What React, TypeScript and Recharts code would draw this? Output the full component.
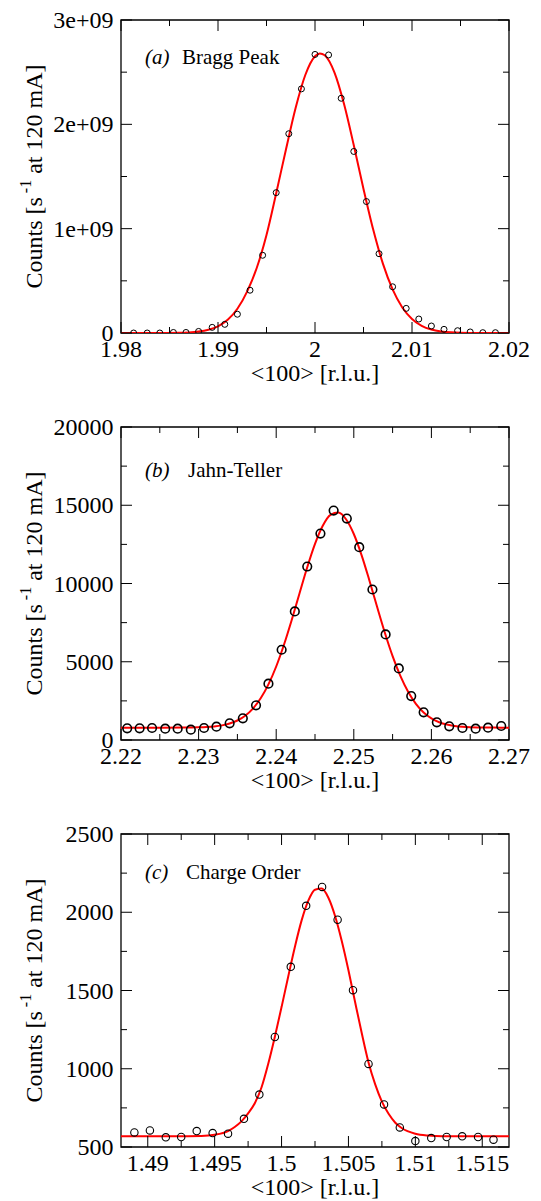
import React from 'react';
import { ComposedChart, Line, Scatter, XAxis, YAxis, ReferenceArea } from 'recharts';

// ---- panel (a) Bragg peak ----
const braggX = [1.9813, 1.9827, 1.984, 1.9854, 1.9867, 1.988, 1.9894, 1.9907, 1.992, 1.9933, 1.9946, 1.996, 1.9973, 1.9986, 2.0, 2.0014, 2.0027, 2.004, 2.0053, 2.0066, 2.008, 2.0094, 2.0107, 2.012, 2.0133, 2.0147, 2.016, 2.0173, 2.0186];
const braggY = [0, 0, 0, 0.005e9, 0.005e9, 0.015e9, 0.054e9, 0.083e9, 0.18e9, 0.41e9, 0.745e9, 1.345e9, 1.91e9, 2.34e9, 2.67e9, 2.665e9, 2.25e9, 1.74e9, 1.26e9, 0.76e9, 0.443e9, 0.236e9, 0.134e9, 0.067e9, 0.035e9, 0.022e9, 0.01e9, 0.003e9, 0.003e9];
const braggFitX = [1.98, 1.984, 1.986, 1.987, 1.988, 1.989, 1.99, 1.991, 1.992, 1.993, 1.994, 1.995, 1.996, 1.997, 1.998, 1.999, 2.0, 2.0005, 2.001, 2.002, 2.003, 2.004, 2.005, 2.006, 2.007, 2.008, 2.009, 2.01, 2.011, 2.012, 2.013, 2.014, 2.015, 2.017, 2.02];
const braggFitY = [0, 0.0003e9, 0.0022e9, 0.0057e9, 0.0137e9, 0.0307e9, 0.0645e9, 0.1265e9, 0.232e9, 0.397e9, 0.625e9, 0.94e9, 1.34e9, 1.757e9, 2.156e9, 2.473e9, 2.653e9, 2.68e9, 2.662e9, 2.498e9, 2.192e9, 1.799e9, 1.381e9, 0.991e9, 0.665e9, 0.418e9, 0.245e9, 0.135e9, 0.069e9, 0.033e9, 0.015e9, 0.0063e9, 0.0025e9, 0.0003e9, 0];
const braggXMajor = [1.98, 1.99, 2, 2.01, 2.02];
const braggXMinor = [1.985, 1.995, 2.005, 2.015];
const braggYMajor = [0, 1e9, 2e9, 3e9];
const braggYMinor = [0.5e9, 1.5e9, 2.5e9];

// ---- panel (b) Jahn-Teller ----
const jtX = [2.2208, 2.2224, 2.224, 2.2257, 2.2273, 2.229, 2.2307, 2.2323, 2.234, 2.2357, 2.2374, 2.239, 2.2407, 2.2424, 2.244, 2.2457, 2.2474, 2.2491, 2.2507, 2.2524, 2.2541, 2.2558, 2.2574, 2.259, 2.2607, 2.2623, 2.264, 2.2657, 2.2673, 2.269];
const jtY = [745, 745, 766, 723, 723, 660, 766, 851, 1064, 1383, 2213, 3596, 5766, 8213, 11085, 13191, 14660, 14149, 12319, 9617, 6745, 4574, 2809, 1766, 1128, 872, 766, 723, 787, 894];
const jtFitX = [2.22, 2.225, 2.228, 2.23, 2.231, 2.232, 2.233, 2.234, 2.235, 2.236, 2.237, 2.238, 2.239, 2.24, 2.241, 2.242, 2.243, 2.244, 2.245, 2.246, 2.247, 2.248, 2.249, 2.25, 2.251, 2.252, 2.253, 2.254, 2.255, 2.256, 2.257, 2.258, 2.259, 2.26, 2.261, 2.262, 2.263, 2.264, 2.265, 2.266, 2.268, 2.27];
const jtFitY = [790, 790, 792, 809, 828, 866, 934, 1051, 1246, 1551, 2010, 2665, 3554, 4696, 6085, 7670, 9364, 11037, 12533, 13694, 14389, 14532, 14107, 13164, 11817, 10213, 8511, 6856, 5361, 4092, 3078, 2310, 1759, 1382, 1137, 985, 895, 844, 817, 803, 792, 790];
const jtXMajor = [2.22, 2.23, 2.24, 2.25, 2.26, 2.27];
const jtXMinor = [2.225, 2.235, 2.245, 2.255, 2.265];
const jtYMajor = [0, 5000, 10000, 15000, 20000];
const jtYMinor = [2500, 7500, 12500, 17500];

// ---- panel (c) Charge order ----
const coX = [1.489, 1.49016, 1.49135, 1.4925, 1.49366, 1.49485, 1.496, 1.49719, 1.49834, 1.4995, 1.50069, 1.50184, 1.50303, 1.50419, 1.50534, 1.5065, 1.50766, 1.50884, 1.51, 1.51119, 1.51234, 1.5135, 1.51469, 1.51584];
const coY = [593, 606, 562, 564, 602, 589, 585, 680, 835, 1203, 1651, 2041, 2162, 1952, 1502, 1031, 772, 625, 538, 557, 564, 568, 564, 547];
const coFitX = [1.488, 1.492, 1.494, 1.495, 1.496, 1.4965, 1.497, 1.4975, 1.498, 1.4985, 1.499, 1.4995, 1.5, 1.5005, 1.501, 1.5015, 1.502, 1.5025, 1.503, 1.5035, 1.504, 1.5045, 1.505, 1.5055, 1.506, 1.5065, 1.507, 1.5075, 1.508, 1.5085, 1.509, 1.51, 1.511, 1.512, 1.517];
const coFitY = [568, 568, 570, 578, 602, 628, 664, 715, 780, 880, 1030, 1205, 1394, 1590, 1780, 1948, 2074, 2144, 2151, 2093, 1976, 1816, 1629, 1425, 1225, 1040, 900, 790, 712, 655, 620, 585, 573, 569, 568];
const coXMajor = [1.49, 1.495, 1.5, 1.505, 1.51, 1.515];
const coXMinor = [1.4925, 1.4975, 1.5025, 1.5075, 1.5125];
const coYMajor = [500, 1000, 1500, 2000, 2500];
const coYMinor = [750, 1250, 1750, 2250];

const W = 541;
const H = 407;
const MARGIN = { top: 20, right: 32, bottom: 0, left: 0 };
const Y_AXIS_W = 121;
const X_AXIS_H = 74;
const PLOT_W = W - Y_AXIS_W - MARGIN.right;
const PLOT_H = H - MARGIN.top - X_AXIS_H;
const FONT = '"Liberation Serif", "Times New Roman", serif';

const zip = (xs: number[], ys: number[]) => xs.map((x, i) => ({ x, y: ys[i] }));
const isIn = (list: number[], v: number) => list.some((m) => Math.abs(m - v) < 1e-9);

function makeXTick(majors: number[]) {
  return (props: any) => {
    const { x, y, payload } = props;
    const major = isIn(majors, payload.value);
    const len = major ? 11 : 6;
    return (
      <g>
        <line x1={x} y1={y} x2={x} y2={y - len} stroke="#000" strokeWidth={1} />
        <line x1={x} y1={y - PLOT_H} x2={x} y2={y - PLOT_H + len} stroke="#000" strokeWidth={1} />
        {major && (
          <text x={x} y={y + 24} textAnchor="middle" fontSize={24} fontFamily={FONT} fill="#000">
            {String(payload.value)}
          </text>
        )}
      </g>
    );
  };
}

function makeYTick(majors: number[], fmt: (v: number) => string) {
  return (props: any) => {
    const { x, y, payload } = props;
    const major = isIn(majors, payload.value);
    const len = major ? 11 : 6;
    return (
      <g>
        <line x1={x} y1={y} x2={x + len} y2={y} stroke="#000" strokeWidth={1} />
        <line x1={x + PLOT_W} y1={y} x2={x + PLOT_W - len} y2={y} stroke="#000" strokeWidth={1} />
        {major && (
          <text x={x - 7.5} y={y + 8} textAnchor="end" fontSize={24} fontFamily={FONT} fill="#000">
            {fmt(payload.value)}
          </text>
        )}
      </g>
    );
  };
}

type PanelProps = {
  points: { x: number; y: number }[];
  fit: { x: number; y: number }[];
  xDomain: [number, number];
  yDomain: [number, number];
  xMajor: number[];
  xMinor: number[];
  yMajor: number[];
  yMinor: number[];
  yFmt: (v: number) => string;
  r: number;
  sw: number;
  tag: string;
  title: string;
  titleX: number;
  titleY: number;
};

function Panel(p: PanelProps) {
  const xTicks = [...p.xMajor, ...p.xMinor].sort((a, b) => a - b);
  const yTicks = [...p.yMajor, ...p.yMinor].sort((a, b) => a - b);
  const cx = Y_AXIS_W + PLOT_W / 2;
  const cy = MARGIN.top + PLOT_H / 2;
  return (
    <div style={{ position: 'relative', width: W, height: H }}>
      <ComposedChart width={W} height={H} margin={MARGIN}>
        <XAxis
          type="number"
          dataKey="x"
          domain={p.xDomain}
          ticks={xTicks}
          interval={0}
          allowDataOverflow
          axisLine={false}
          tickLine={false}
          tickSize={0}
          tickMargin={0}
          height={X_AXIS_H}
          tick={makeXTick(p.xMajor)}
        />
        <YAxis
          type="number"
          dataKey="y"
          domain={p.yDomain}
          ticks={yTicks}
          interval={0}
          allowDataOverflow
          axisLine={false}
          tickLine={false}
          tickSize={0}
          tickMargin={0}
          width={Y_AXIS_W}
          tick={makeYTick(p.yMajor, p.yFmt)}
        />
        <ReferenceArea
          x1={p.xDomain[0]}
          x2={p.xDomain[1]}
          y1={p.yDomain[0]}
          y2={p.yDomain[1]}
          fill="none"
          fillOpacity={0}
          stroke="#000"
          strokeWidth={1.3}
          strokeOpacity={1}
          ifOverflow="visible"
        />
        <Scatter
          data={p.points}
          dataKey="y"
          isAnimationActive={false}
          shape={(s: any) => <circle cx={s.cx} cy={s.cy} r={p.r} fill="none" stroke="#000" strokeWidth={p.sw} />}
        />
        <Line
          data={p.fit}
          dataKey="y"
          type="monotone"
          stroke="#ff0000"
          strokeWidth={2}
          dot={false}
          activeDot={false}
          isAnimationActive={false}
        />
      </ComposedChart>
      <svg width={W} height={H} style={{ position: 'absolute', left: 0, top: 0, pointerEvents: 'none' }}>
        <text x={145} y={p.titleY} fontSize={21} fontFamily={FONT} fontStyle="italic" fill="#000">
          {p.tag}
        </text>
        <text x={p.titleX} y={p.titleY} fontSize={21} fontFamily={FONT} fill="#000">
          {p.title}
        </text>
        <text x={cx} y={381} textAnchor="middle" fontSize={24} fontFamily={FONT} fill="#000">
          {'<100> [r.l.u.]'}
        </text>
        <text
          transform={`translate(42, ${cy}) rotate(-90)`}
          textAnchor="middle"
          fontSize={24}
          fontFamily={FONT}
          fill="#000"
        >
          Counts [s
          <tspan fontSize={16} dy={-11}>
            {' -1'}
          </tspan>
          <tspan dy={11}>{'  at 120 mA]'}</tspan>
        </text>
      </svg>
    </div>
  );
}

export default function App() {
  return (
    <div
      style={{
        position: 'absolute',
        left: 0,
        top: 0,
        width: W,
        height: 1201,
        overflow: 'hidden',
        background: '#fff',
      }}
    >
      <Panel
        points={zip(braggX, braggY)}
        fit={zip(braggFitX, braggFitY)}
        xDomain={[1.98, 2.02]}
        yDomain={[0, 3e9]}
        xMajor={braggXMajor}
        xMinor={braggXMinor}
        yMajor={braggYMajor}
        yMinor={braggYMinor}
        yFmt={(v) => (v === 0 ? '0' : `${v / 1e9}e+09`)}
        r={3}
        sw={1}
        tag="(a)"
        title="Bragg Peak"
        titleX={182}
        titleY={64}
      />
      <Panel
        points={zip(jtX, jtY)}
        fit={zip(jtFitX, jtFitY)}
        xDomain={[2.22, 2.27]}
        yDomain={[0, 20000]}
        xMajor={jtXMajor}
        xMinor={jtXMinor}
        yMajor={jtYMajor}
        yMinor={jtYMinor}
        yFmt={(v) => String(v)}
        r={4.3}
        sw={1.6}
        tag="(b)"
        title="Jahn-Teller"
        titleX={188}
        titleY={70}
      />
      <Panel
        points={zip(coX, coY)}
        fit={zip(coFitX, coFitY)}
        xDomain={[1.488, 1.517]}
        yDomain={[500, 2500]}
        xMajor={coXMajor}
        xMinor={coXMinor}
        yMajor={coYMajor}
        yMinor={coYMinor}
        yFmt={(v) => String(v)}
        r={3.7}
        sw={1.1}
        tag="(c)"
        title="Charge Order"
        titleX={186}
        titleY={65}
      />
    </div>
  );
}
